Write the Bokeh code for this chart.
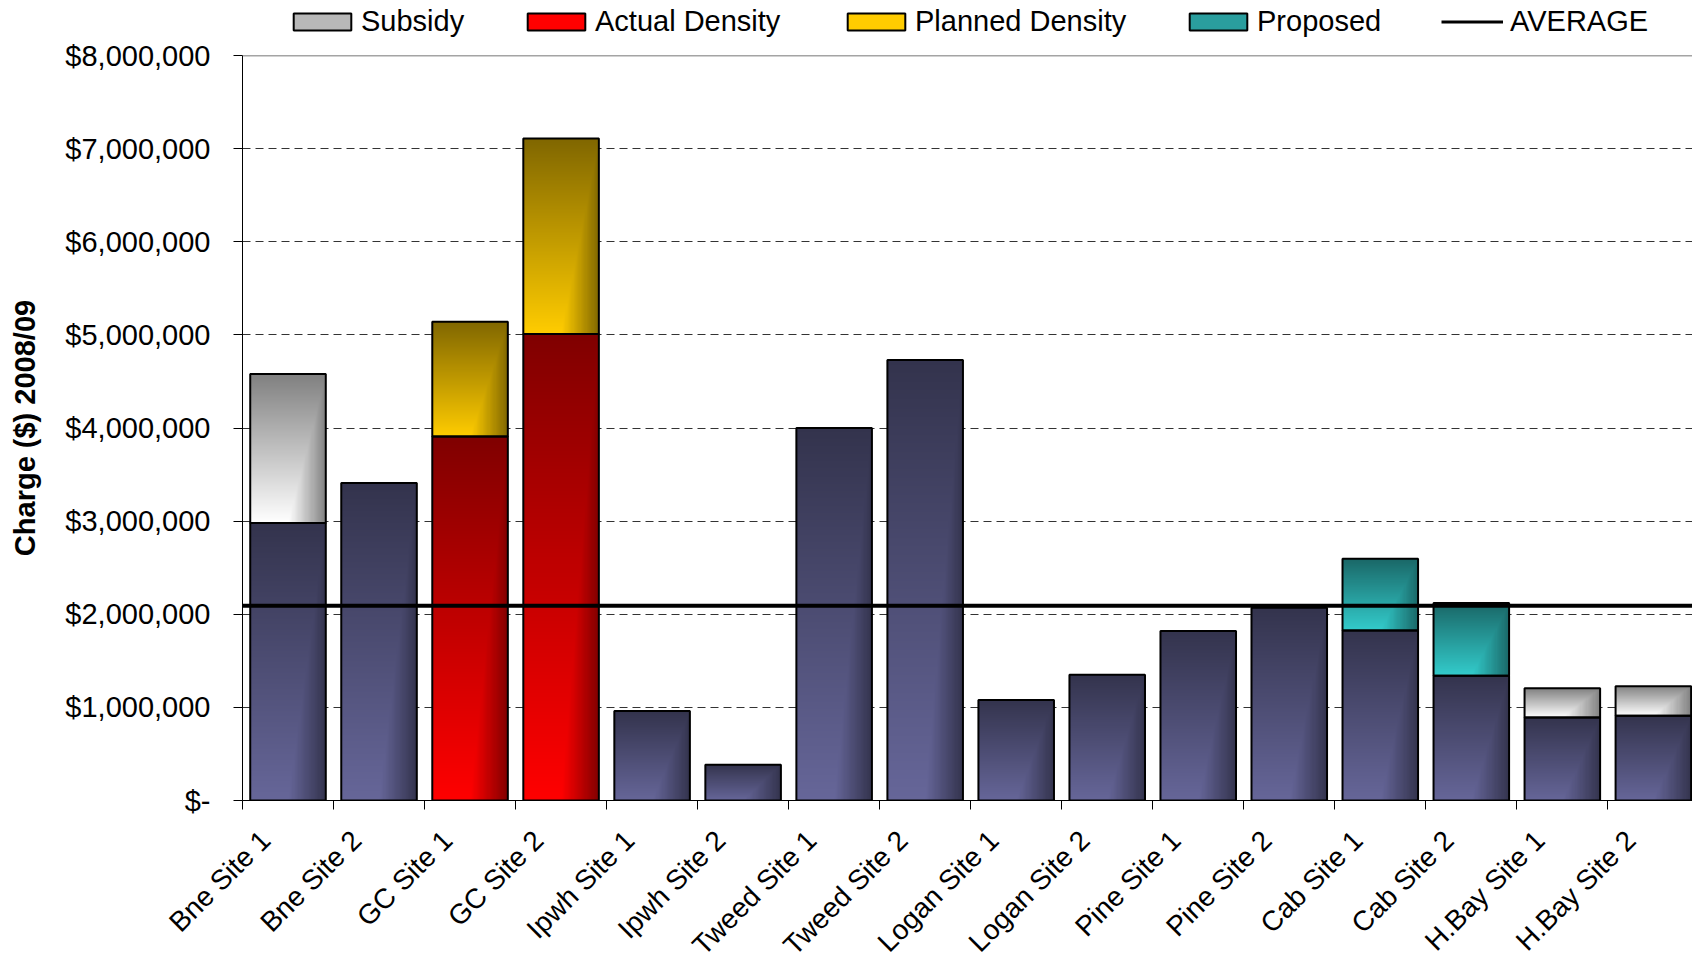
import math
import numpy as np
from bokeh.plotting import figure
from bokeh.layouts import column
from bokeh.models import (Range1d, FixedTicker, Span, Legend, LegendItem,
                          ColumnDataSource)
from bokeh.core.properties import value
from bokeh.embed import file_html
from bokeh.resources import INLINE

# ---------------- data ----------------
sites = ["Bne Site 1", "Bne Site 2", "GC Site 1", "GC Site 2", "Ipwh Site 1",
         "Ipwh Site 2", "Tweed Site 1", "Tweed Site 2", "Logan Site 1",
         "Logan Site 2", "Pine Site 1", "Pine Site 2", "Cab Site 1",
         "Cab Site 2", "H.Bay Site 1", "H.Bay Site 2"]
base_charge = [2980000, 3410000, 0, 0, 960000, 385000, 4000000, 4730000,
               1080000, 1350000, 1820000, 2070000, 1825000, 1340000,
               890000, 910000]
actual_density = [0, 0, 3910000, 5010000, 0, 0, 0, 0, 0, 0, 0, 0, 0, 0, 0, 0]
planned_density = [0, 0, 1230000, 2100000, 0, 0, 0, 0, 0, 0, 0, 0, 0, 0, 0, 0]
proposed = [0, 0, 0, 0, 0, 0, 0, 0, 0, 0, 0, 0, 770000, 780000, 0, 0]
subsidy = [1600000, 0, 0, 0, 0, 0, 0, 0, 0, 0, 0, 0, 0, 0, 315000, 318000]
average = 2090000

y_ticks = [0, 1000000, 2000000, 3000000, 4000000, 5000000, 6000000,
           7000000, 8000000]
y_tick_labels = ["$-", "$1,000,000", "$2,000,000", "$3,000,000",
                 "$4,000,000", "$5,000,000", "$6,000,000", "$7,000,000",
                 "$8,000,000"]

legend_labels = ["Subsidy", "Actual Density", "Planned Density", "Proposed",
                 "AVERAGE"]

# stacking order (bottom to top) and base colours
series = [
    (base_charge, "#666699"),
    (actual_density, "#ff0000"),
    (planned_density, "#ffcc00"),
    (proposed, "#33cccc"),
    (subsidy, "#ffffff"),
]

FONT = "Liberation Sans"
BAR_W = 0.83
W = 1692
LEG_H = 38          # legend strip
TOP_B = 17
FRAME_H = 745
BOT_B = 17
LABEL_H = 965 - LEG_H - TOP_B - FRAME_H - BOT_B
LEFT = 242
X_END = 15.93


def hex_rgb(h):
    h = h.lstrip("#")
    return np.array([int(h[i:i + 2], 16) for i in (0, 2, 4)], dtype=float)


def gradient_image(color, nx=64, ny=256):
    light = hex_rgb(color)
    dark = light * 0.5
    u = (np.arange(nx) + 0.5) / nx
    v = (np.arange(ny) + 0.5) / ny
    U, V = np.meshgrid(u, v)
    hpart = np.clip((U - 0.5) / 0.5, 0, 1)
    t = np.maximum(hpart, V)
    col = light[None, None, :] * (1 - t[..., None]) + dark[None, None, :] * t[..., None]
    img = np.empty((ny, nx), dtype=np.uint32)
    view = img.view(dtype=np.uint8).reshape((ny, nx, 4))
    view[..., 0:3] = np.clip(col.round(), 0, 255).astype(np.uint8)
    view[..., 3] = 255
    return img


# ---------------- legend strip ----------------
p0 = figure(width=W, height=LEG_H, x_range=Range1d(0, 1), y_range=Range1d(0, 1),
            x_axis_location=None, y_axis_location=None,
            output_backend="svg", toolbar_location=None,
            min_border_left=0, min_border_right=0, min_border_top=0,
            min_border_bottom=0)
p0.frame_align = False
p0.outline_line_color = None
p0.grid.visible = False

# swatch carriers: a single NaN point, so nothing is drawn in the strip
dummy = ColumnDataSource(dict(x=[float("nan")], top=[float("nan")]))
r_sub = p0.vbar(x="x", top="top", width=0.8, source=dummy,
                fill_color="#b8b8b8", line_color="black", line_width=2)
r_act = p0.vbar(x="x", top="top", width=0.8, source=dummy,
                fill_color="#ff0000", line_color="black", line_width=2)
r_pla = p0.vbar(x="x", top="top", width=0.8, source=dummy,
                fill_color="#ffcc00", line_color="black", line_width=2)
r_pro = p0.vbar(x="x", top="top", width=0.8, source=dummy,
                fill_color="#2a9e9e", line_color="black", line_width=2)
r_avg = p0.line(x="x", y="top", source=dummy, line_color="black", line_width=3)

legend_x = [286, 520, 840, 1182, 1441]
glyph_ws = [72, 72, 72, 72, 62]
standoffs = [3, 3, 3, 3, 7]
for lab, rend, lx, gw, so in zip(legend_labels,
                                 [r_sub, r_act, r_pla, r_pro, r_avg],
                                 legend_x, glyph_ws, standoffs):
    lg = Legend(items=[LegendItem(label=lab, renderers=[rend])],
                orientation="horizontal", location=(lx, 0),
                glyph_width=gw, glyph_height=21, label_height=29,
                label_standoff=so, spacing=0, padding=0, margin=0,
                border_line_color=None, background_fill_alpha=0,
                label_text_font=FONT, label_text_font_size="29px",
                label_text_color="black", label_text_baseline="middle")
    p0.add_layout(lg)

# ---------------- main chart ----------------
p = figure(width=W, height=TOP_B + FRAME_H + BOT_B,
           x_range=Range1d(0, X_END), y_range=Range1d(0, 8000000),
           output_backend="svg", toolbar_location=None,
           min_border_left=LEFT, min_border_right=0,
           min_border_top=TOP_B, min_border_bottom=BOT_B)
p.frame_align = False
p.outline_line_color = None
p.background_fill_color = "white"
p.border_fill_color = "white"

p.xgrid.visible = False
p.ygrid.ticker = FixedTicker(ticks=y_ticks[1:-1])
p.ygrid.grid_line_color = "#333333"
p.ygrid.grid_line_dash = "8 5"
p.ygrid.grid_line_width = 1

imgs, ix, iy, idw, idh = [], [], [], [], []
ox, ob, ot = [], [], []
bottoms = [0.0] * len(sites)
for vals, color in series:
    for i, val in enumerate(vals):
        if val > 0:
            b = bottoms[i]
            imgs.append(gradient_image(color))
            ix.append(i + 0.5 - BAR_W / 2)
            iy.append(b)
            idw.append(BAR_W)
            idh.append(val)
            ox.append(i + 0.5)
            ob.append(b)
            ot.append(b + val)
            bottoms[i] = b + val

img_src = ColumnDataSource(dict(image=imgs, x=ix, y=iy, dw=idw, dh=idh))
p.image_rgba(image="image", x="x", y="y", dw="dw", dh="dh", source=img_src)

out_src = ColumnDataSource(dict(x=ox, bottom=ob, top=ot))
p.vbar(x="x", bottom="bottom", top="top", width=BAR_W, source=out_src,
       fill_color=None, line_color="black", line_width=2)

p.add_layout(Span(location=average, dimension="width", line_color="black",
                  line_width=4))
p.add_layout(Span(location=8000000, dimension="width", line_color="#4a4a4a",
                  line_width=1.5))

yax = p.yaxis[0]
yax.ticker = FixedTicker(ticks=y_ticks)
yax.major_label_overrides = dict(zip(y_ticks, y_tick_labels))
yax.major_label_text_font = FONT
yax.major_label_text_font_size = "29px"
yax.major_label_text_color = "black"
yax.major_label_standoff = 23
yax.major_tick_out = 9
yax.major_tick_in = 0
yax.major_tick_line_color = "black"
yax.minor_tick_line_color = None
yax.axis_line_color = "black"
yax.axis_label = "Charge ($) 2008/09"
yax.axis_label_text_font = FONT
yax.axis_label_text_font_size = "29px"
yax.axis_label_text_font_style = "bold"
yax.axis_label_text_color = "black"
yax.axis_label_standoff = 21

xax = p.xaxis[0]
xax.ticker = FixedTicker(ticks=list(range(len(sites) + 1)))
xax.major_label_text_font_size = "1px"
xax.major_label_text_color = None
xax.major_label_standoff = 0
xax.major_tick_out = 9
xax.major_tick_in = 0
xax.major_tick_line_color = "black"
xax.minor_tick_line_color = None
xax.axis_line_color = "black"

# ---------------- category label strip ----------------
px_per_unit = (W - LEFT) / X_END
p2 = figure(width=W, height=LABEL_H,
            x_range=Range1d(-LEFT / px_per_unit, X_END),
            y_range=Range1d(-LABEL_H, 0),
            x_axis_location=None, y_axis_location=None,
            output_backend="svg", toolbar_location=None,
            min_border_left=0, min_border_right=0, min_border_top=0,
            min_border_bottom=0)
p2.frame_align = False
p2.outline_line_color = None
p2.grid.visible = False

label_shift = -22.5 / px_per_unit
lab_src = ColumnDataSource(dict(x=[i + 0.5 + label_shift for i in range(len(sites))],
                                text=sites))
p2.text(x="x", y=-18, text="text", source=lab_src, angle=math.pi / 4,
        text_align="right", text_baseline="middle",
        text_font=value(FONT), text_font_size=value("28px"),
        text_color="black")

layout = column(p0, p, p2, spacing=0)
open("out.html", "w").write(file_html(layout, INLINE))
